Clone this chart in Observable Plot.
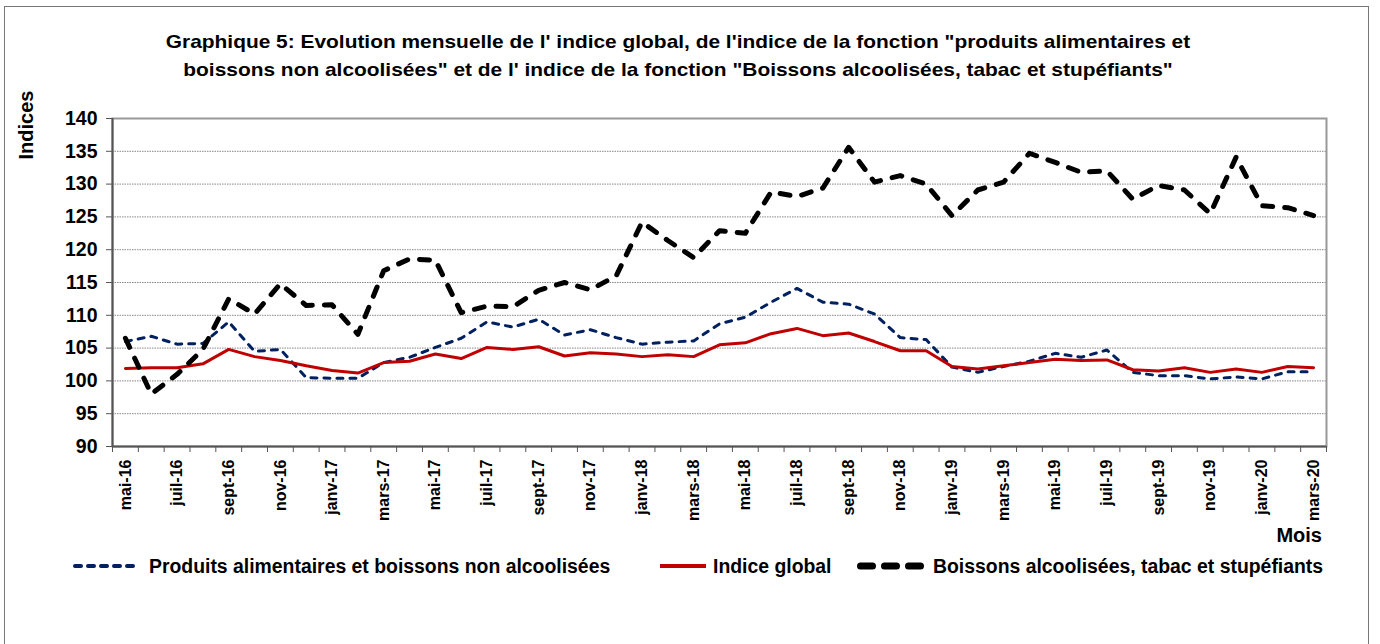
<!DOCTYPE html>
<html><head><meta charset="utf-8">
<script src="https://cdn.jsdelivr.net/npm/d3@7"></script>
<script src="https://cdn.jsdelivr.net/npm/@observablehq/plot@0.6"></script>
<style>
body{margin:0;background:#fff;}
#wrap{position:relative;width:1380px;height:644px;overflow:hidden;background:#fff;}
#border{position:absolute;left:4px;top:6px;width:1363px;height:700px;border:1px solid #777;}
#chart{position:absolute;left:0;top:0;}
#title{position:absolute;left:0;width:1356px;top:28px;text-align:center;font:bold 19px "Liberation Sans",Arial;line-height:28px;color:#000;transform:scaleX(1.1);transform-origin:678px 0;}
#ylab{position:absolute;left:26px;top:125px;transform:translate(-50%,-50%) rotate(-90deg);font:bold 20px "Liberation Sans",Arial;white-space:nowrap;}
#xlab{position:absolute;right:58px;top:524px;font:bold 20px "Liberation Sans",Arial;}
.leg{position:absolute;top:553px;font:bold 19.4px "Liberation Sans",Arial;line-height:26px;white-space:nowrap;display:flex;align-items:center;}
.leg svg{margin-right:7px;}
</style></head>
<body>
<div id="wrap">
<div id="border"></div>
<div id="chart"></div>
<div id="title">Graphique 5: Evolution mensuelle de l' indice global, de l'indice de la fonction "produits alimentaires et<br>boissons non alcoolisées" et de l' indice de la fonction "Boissons alcoolisées, tabac et stupéfiants"</div>
<div id="ylab">Indices</div>
<div id="xlab">Mois</div>
<div id="legend"></div>
</div>
<script>
const months = ["mai-16","juin-16","juil-16","août-16","sept-16","oct-16","nov-16","déc-16","janv-17","févr-17","mars-17","avr-17","mai-17","juin-17","juil-17","août-17","sept-17","oct-17","nov-17","déc-17","janv-18","févr-18","mars-18","avr-18","mai-18","juin-18","juil-18","août-18","sept-18","oct-18","nov-18","déc-18","janv-19","févr-19","mars-19","avr-19","mai-19","juin-19","juil-19","août-19","sept-19","oct-19","nov-19","déc-19","janv-20","févr-20","mars-20"];

const food = [106.0,106.8,105.6,105.7,109.0,104.5,104.8,100.5,100.4,100.4,102.8,103.6,105.1,106.5,109.0,108.2,
  109.4,107.0,107.8,106.6,105.6,105.9,106.1,108.7,109.7,112.0,114.1,112.0,111.7,110.2,106.6,106.3,
  102.1,101.3,102.2,103.0,104.2,103.6,104.7,101.3,100.8,100.8,100.3,100.6,100.3,101.4,101.4];

const globalIdx = [101.9,102.0,102.0,102.6,104.8,103.7,103.1,102.3,101.6,101.2,102.8,103.0,104.1,103.4,105.1,104.8,
  105.2,103.8,104.3,104.1,103.7,104.0,103.7,105.5,105.8,107.2,108.0,106.9,107.3,106.0,104.6,104.6,
  102.2,101.8,102.3,102.8,103.3,103.1,103.2,101.7,101.5,102.0,101.3,101.8,101.3,102.2,102.0];

const alcohol = [106.5,98.0,101.0,104.8,112.5,110.2,114.8,111.5,111.6,107.1,116.8,118.6,118.4,110.4,111.4,111.3,
  113.8,115.0,113.9,116.0,124.2,121.4,118.8,122.9,122.5,128.8,128.1,129.4,135.6,130.3,131.3,130.0,
  125.2,129.1,130.3,134.7,133.3,131.8,132.0,127.7,129.8,129.1,125.5,134.1,126.7,126.4,125.2];

const seriesNames = ["Produits alimentaires et boissons non alcoolisées","Indice global","Boissons alcoolisées, tabac et stupéfiants"];
const yTicks = [90,95,100,105,110,115,120,125,130,135,140];

const idx = (d,i) => i;
const n = months.length;

const chart = Plot.plot({
  width: 1380,
  height: 644,
  marginLeft: 112,
  marginRight: 54,
  marginTop: 118,
  marginBottom: 198,
  style: {fontFamily: "'Liberation Sans', Arial, sans-serif", fontWeight: "bold", color: "#000", background: "transparent"},
  x: {type: "linear", domain: [-0.5, n - 0.5]},
  y: {domain: [90, 140]},
  marks: [
    Plot.gridY(yTicks.slice(1, -1), {stroke: "#888", strokeOpacity: 1, strokeDasharray: "1.5,1", strokeWidth: 1}),
    Plot.frame({stroke: "#999", strokeWidth: 2}),
    Plot.ruleX([-0.5], {stroke: "#555", strokeWidth: 2}),
    Plot.ruleY([90], {stroke: "#555", strokeWidth: 2}),
    Plot.axisY({ticks: yTicks, tickSize: 6, tickPadding: 9, fontSize: 19.5, label: null, stroke: "#555"}),
    Plot.axisX({ticks: d3.range(-0.5, n, 1), tickSize: 6, tickFormat: () => "", label: null, stroke: "#555"}),
    Plot.axisX({ticks: d3.range(0, n, 2), tickSize: 0, tickPadding: 13, tickRotate: -90, fontSize: 16,
      tickFormat: i => months[i], label: null}),
    Plot.lineY(food, {x: idx, stroke: "#002060", strokeWidth: 3, strokeDasharray: "6,7", strokeLinecap: "round", strokeLinejoin: "round"}),
    Plot.lineY(globalIdx, {x: idx, stroke: "#C00000", strokeWidth: 3, strokeLinejoin: "round"}),
    Plot.lineY(alcohol, {x: idx, stroke: "#000", strokeWidth: 5, strokeDasharray: "10,12", strokeLinecap: "round", strokeLinejoin: "round"})
  ]
});
document.getElementById("chart").appendChild(chart);

// legend
const legendItems = [
  {name: seriesNames[0], left: 72, sw: 70, color: "#002060", w: 4, dash: "6,7", cap: "round"},
  {name: seriesNames[1], left: 660, sw: 46, color: "#C00000", w: 4, dash: null, cap: "butt"},
  {name: seriesNames[2], left: 856, sw: 70, color: "#000", w: 7, dash: "12,12", cap: "round"}
];
const leg = document.getElementById("legend");
for (const it of legendItems) {
  const div = document.createElement("div");
  div.className = "leg";
  div.style.left = it.left + "px";
  const s = d3.create("svg").attr("width", it.sw).attr("height", 12);
  s.append("line").attr("x1", it.cap === "round" ? it.w/2 + 1 : 0).attr("x2", it.sw - (it.cap === "round" ? it.w/2 : 0))
    .attr("y1", 6).attr("y2", 6).attr("stroke", it.color).attr("stroke-width", it.w)
    .attr("stroke-linecap", it.cap).attr("stroke-dasharray", it.dash);
  div.appendChild(s.node());
  const t = document.createElement("span");
  t.textContent = it.name;
  div.appendChild(t);
  leg.appendChild(div);
}
</script>
</body></html>
